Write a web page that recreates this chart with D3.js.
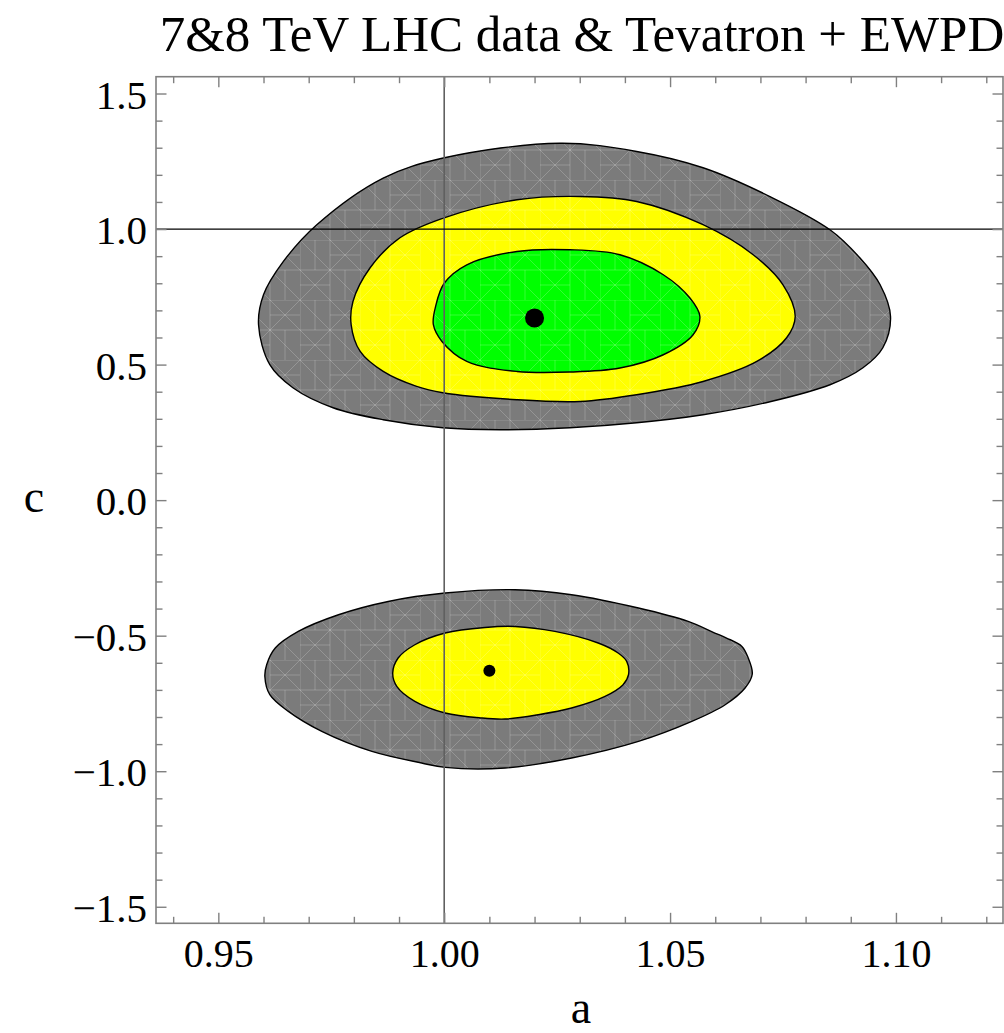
<!DOCTYPE html>
<html>
<head>
<meta charset="utf-8">
<script src="https://cdn.jsdelivr.net/npm/d3@7"></script>
<style>
  html, body { margin: 0; padding: 0; background: #fff; }
  svg { display: block; }
  text { font-family: "Liberation Serif", "Times New Roman", serif; fill: #000; }
</style>
</head>
<body>
<svg id="chart" width="1004" height="1033"></svg>
<script>
// Axis ticks
const xMajor = [0.95, 1.00, 1.05, 1.10];
const xTickLabels = ["0.95", "1.00", "1.05", "1.10"];
const yMajor = [-1.5, -1.0, -0.5, 0.0, 0.5, 1.0, 1.5];
const yTickLabels = ["\u22121.5", "\u22121.0", "\u22120.5", "0.0", "0.5", "1.0", "1.5"];

// Confidence-region boundaries in the (a, c) plane, c > 0 island
const outerUpper = [
  [0.9589, 0.6470], [0.9600, 0.7577], [0.9644, 0.8805], [0.9718, 1.0159],
  [0.9865, 1.1881], [0.9998, 1.2619], [1.0256, 1.3165], [1.0426, 1.2862],
  [1.0573, 1.2261], [1.0721, 1.1200], [1.0854, 0.9974], [1.0920, 0.8941],
  [1.0965, 0.7945], [1.0988, 0.6776], [1.0971, 0.5622], [1.0927, 0.4884],
  [1.0854, 0.4257], [1.0721, 0.3630], [1.0573, 0.3150], [1.0426, 0.2855],
  [1.0278, 0.2671], [1.0124, 0.2597], [0.9997, 0.2671], [0.9865, 0.2966],
  [0.9754, 0.3408], [0.9665, 0.4146], [0.9614, 0.4995]
];
const middleUpper = [
  [0.9794, 0.6470], [0.9798, 0.7329], [0.9836, 0.8572], [0.9902, 0.9679],
  [0.9998, 1.0406], [1.0161, 1.1081], [1.0301, 1.1203], [1.0426, 1.1018],
  [1.0573, 1.0159], [1.0684, 0.9052], [1.0750, 0.7945], [1.0777, 0.6776],
  [1.0758, 0.5990], [1.0692, 0.5116], [1.0573, 0.4378], [1.0426, 0.3888],
  [1.0301, 0.3641], [1.0161, 0.3703], [0.9997, 0.3962], [0.9939, 0.4194],
  [0.9865, 0.4747], [0.9814, 0.5485]
];
const innerUpper = [
  [0.9976, 0.6470], [0.9981, 0.7150], [1.0000, 0.8000], [1.0050, 0.8683],
  [1.0161, 0.9174], [1.0278, 0.9236], [1.0389, 0.9052], [1.0485, 0.8314],
  [1.0544, 0.7455], [1.0566, 0.6776], [1.0551, 0.6101], [1.0485, 0.5363],
  [1.0389, 0.4873], [1.0278, 0.4725], [1.0161, 0.4747], [1.0050, 0.5116],
  [0.9995, 0.5854]
];

// c < 0 island
const outerLower = [
  [0.9603, -0.6503], [0.9607, -0.6072], [0.9626, -0.5456], [0.9677, -0.4843],
  [0.9766, -0.4227], [0.9876, -0.3737], [1.0002, -0.3427], [1.0157, -0.3305],
  [1.0282, -0.3489], [1.0430, -0.3980], [1.0540, -0.4474], [1.0599, -0.4902],
  [1.0625, -0.5087], [1.0659, -0.5397], [1.0673, -0.5824], [1.0682, -0.6414],
  [1.0666, -0.6931], [1.0622, -0.7547], [1.0548, -0.8163], [1.0430, -0.8901],
  [1.0282, -0.9513], [1.0135, -0.9882], [1.0002, -0.9860], [0.9950, -0.9697],
  [0.9840, -0.9270], [0.9729, -0.8532], [0.9655, -0.7794], [0.9614, -0.7178]
];
const middleLower = [
  [0.9886, -0.6378], [0.9898, -0.5824], [0.9935, -0.5334], [1.0002, -0.4902],
  [1.0090, -0.4696], [1.0157, -0.4659], [1.0245, -0.4843], [1.0341, -0.5271],
  [1.0385, -0.5640], [1.0404, -0.5950], [1.0408, -0.6440], [1.0396, -0.6809],
  [1.0356, -0.7241], [1.0282, -0.7669], [1.0208, -0.7916], [1.0135, -0.8074],
  [1.0083, -0.8037], [1.0002, -0.7853], [0.9935, -0.7425], [0.9895, -0.6872]
];

// Best-fit points
const bestFitA = [1.020, 1.010];
const bestFitC = [0.672, -0.629];
const bestFitR = [9.5, 6];

// Reference lines (Standard Model values)
const refA = 1.0;
const refC = 1.0;

const regions = [
  { pts: outerUpper, fill: "#7b7b7b" },
  { pts: middleUpper, fill: "#ffff00" },
  { pts: innerUpper, fill: "#00ff00" },
  { pts: outerLower, fill: "#7b7b7b" },
  { pts: middleLower, fill: "#ffff00" }
];

const plotLeft = 156, plotRight = 1003, plotTop = 76.7, plotBottom = 923.3;
const x = d3.scaleLinear().domain([0.9362, 1.1237]).range([plotLeft, plotRight]);
const y = d3.scaleLinear().domain([-1.561, 1.562]).range([plotBottom, plotTop]);

const svg = d3.select("#chart");
const defs = svg.append("defs");

// faint mesh texture inside the filled regions
const pat = defs.append("pattern")
  .attr("id", "mesh").attr("patternUnits", "userSpaceOnUse")
  .attr("width", 60).attr("height", 60);
const meshLines = [
  [0, 0, 60, 0], [0, 0, 0, 60], [0, 0, 60, 60], [0, 60, 60, 0],
  [30, 0, 30, 60], [0, 30, 60, 30], [30, 0, 60, 30], [0, 30, 30, 60],
  [15, 0, 15, 30], [0, 45, 30, 45], [45, 30, 45, 60], [30, 15, 60, 15]
];
pat.selectAll("line").data(meshLines).join("line")
  .attr("x1", d => d[0]).attr("y1", d => d[1]).attr("x2", d => d[2]).attr("y2", d => d[3])
  .attr("stroke", "#fff").attr("stroke-opacity", 0.2).attr("stroke-width", 1);

defs.append("clipPath").attr("id", "plotclip")
  .append("rect").attr("x", plotLeft).attr("y", plotTop)
  .attr("width", plotRight - plotLeft).attr("height", plotBottom - plotTop);

const line = d3.line().x(d => x(d[0])).y(d => y(d[1])).curve(d3.curveCatmullRomClosed.alpha(0.5));

const plot = svg.append("g").attr("clip-path", "url(#plotclip)");

regions.forEach(r => {
  plot.append("path").attr("d", line(r.pts)).attr("fill", r.fill).attr("stroke", "none");
  plot.append("path").attr("d", line(r.pts)).attr("fill", "url(#mesh)")
    .attr("stroke", "#000").attr("stroke-width", 1.4);
});

// reference lines
plot.append("line").attr("x1", x(refA)).attr("x2", x(refA)).attr("y1", plotTop).attr("y2", plotBottom)
  .attr("stroke", "#606060").attr("stroke-width", 1.6);
plot.append("line").attr("x1", plotLeft).attr("x2", plotRight).attr("y1", y(refC)).attr("y2", y(refC))
  .attr("stroke", "#000").attr("stroke-width", 1.2);

// best-fit markers
plot.selectAll("circle.best").data(bestFitA).join("circle").attr("class", "best")
  .attr("cx", d => x(d)).attr("cy", (d, i) => y(bestFitC[i])).attr("r", (d, i) => bestFitR[i])
  .attr("fill", "#000");

// frame ticks (inward on all sides)
const xMinor = d3.range(94, 113).map(v => v / 100).filter(v => !xMajor.some(m => Math.abs(m - v) < 1e-9));
const yMinor = d3.range(-15, 16).map(v => v / 10).filter(v => !yMajor.some(m => Math.abs(m - v) < 1e-9));
const tickColor = "#808080";

function styleAxis(g) {
  g.select(".domain").remove();
  g.selectAll(".tick line").attr("stroke", tickColor).attr("stroke-width", 1.4);
}

svg.append("g").attr("transform", `translate(0,${plotBottom})`)
  .call(d3.axisBottom(x).tickValues(xMajor).tickSize(-10.5).tickPadding(15).tickFormat((d, i) => xTickLabels[i]))
  .call(styleAxis)
  .selectAll("text").attr("font-size", 40).attr("font-family", "Liberation Serif");
svg.append("g").attr("transform", `translate(0,${plotBottom})`)
  .call(d3.axisBottom(x).tickValues(xMinor).tickSize(-6.5).tickFormat(""))
  .call(styleAxis);
svg.append("g").attr("transform", `translate(0,${plotTop})`)
  .call(d3.axisTop(x).tickValues(xMajor).tickSize(-10.5).tickFormat(""))
  .call(styleAxis);
svg.append("g").attr("transform", `translate(0,${plotTop})`)
  .call(d3.axisTop(x).tickValues(xMinor).tickSize(-6.5).tickFormat(""))
  .call(styleAxis);

svg.append("g").attr("transform", `translate(${plotLeft},0)`)
  .call(d3.axisLeft(y).tickValues(yMajor).tickSize(-10.5).tickPadding(9).tickFormat((d, i) => yTickLabels[i]))
  .call(styleAxis)
  .selectAll("text").attr("font-size", 41).attr("font-family", "Liberation Serif").attr("dy", "0.36em");
svg.append("g").attr("transform", `translate(${plotLeft},0)`)
  .call(d3.axisLeft(y).tickValues(yMinor).tickSize(-6.5).tickFormat(""))
  .call(styleAxis);
svg.append("g").attr("transform", `translate(${plotRight},0)`)
  .call(d3.axisRight(y).tickValues(yMajor).tickSize(-10.5).tickFormat(""))
  .call(styleAxis);
svg.append("g").attr("transform", `translate(${plotRight},0)`)
  .call(d3.axisRight(y).tickValues(yMinor).tickSize(-6.5).tickFormat(""))
  .call(styleAxis);

// frame
svg.append("rect").attr("x", plotLeft).attr("y", plotTop)
  .attr("width", plotRight - plotLeft).attr("height", plotBottom - plotTop)
  .attr("fill", "none").attr("stroke", tickColor).attr("stroke-width", 1.6);

// titles
svg.append("text").attr("x", 582).attr("y", 51).attr("text-anchor", "middle")
  .attr("font-size", 51).text("7&8 TeV LHC data & Tevatron + EWPD");
svg.append("text").attr("x", 581).attr("y", 1023).attr("text-anchor", "middle")
  .attr("font-size", 46).text("a");
svg.append("text").attr("x", 34).attr("y", 512).attr("text-anchor", "middle")
  .attr("font-size", 46).text("c");
</script>
</body>
</html>
